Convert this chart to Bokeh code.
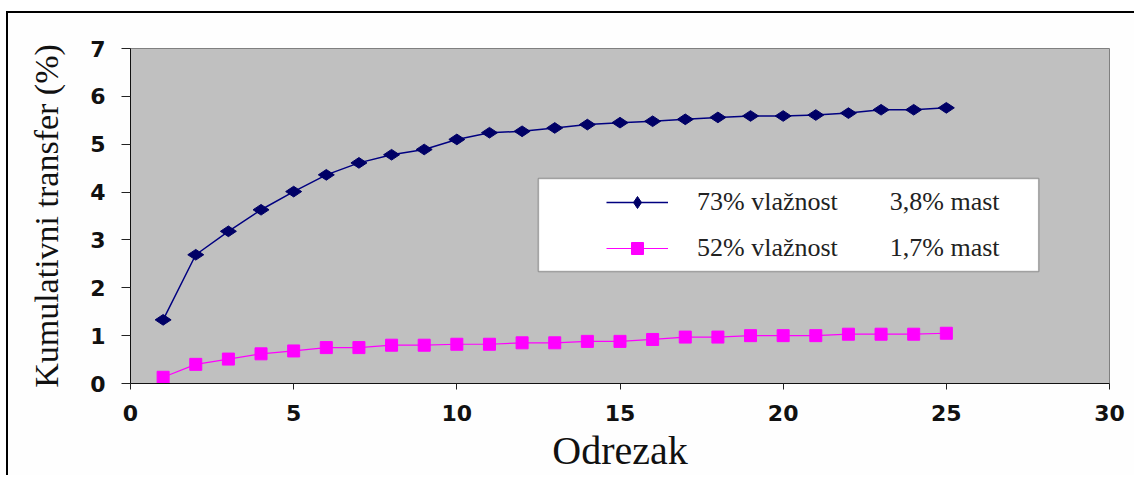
from bokeh.plotting import figure
from bokeh.models import Range1d, SingleIntervalTicker, Legend, LegendItem, BoxAnnotation
from bokeh.embed import file_html
from bokeh.resources import INLINE
import math

# ---- data ----
odrezak = list(range(1, 26))
s73 = [1.33, 2.69, 3.18, 3.63, 4.01, 4.36, 4.61, 4.78, 4.89, 5.10,
       5.24, 5.27, 5.34, 5.41, 5.45, 5.48, 5.52, 5.56, 5.59, 5.59,
       5.61, 5.65, 5.72, 5.72, 5.76]
s52 = [0.13, 0.40, 0.51, 0.62, 0.68, 0.75, 0.75, 0.80, 0.80, 0.82,
       0.82, 0.85, 0.85, 0.88, 0.88, 0.92, 0.97, 0.97, 1.00, 1.00,
       1.00, 1.03, 1.03, 1.03, 1.05]
label73 = "73% vlažnost" + "\u00a0" * 8 + "3,8% mast"
label52 = "52% vlažnost" + "\u00a0" * 8 + "1,7% mast"
x_label = "Odrezak"
y_label = "Kumulativni transfer (%)"

p = figure(width=1128, height=464, output_backend="svg", toolbar_location=None,
           x_range=Range1d(0, 30), y_range=Range1d(0, 7),
           min_border_left=122, min_border_right=27, min_border_top=35, min_border_bottom=94)
p.styles = {"margin-left": "6px", "margin-top": "11px",
            "border-left": "2px solid black", "border-top": "2px solid black"}

p.background_fill_color = "#C0C0C0"
p.border_fill_color = "#FEFEFE"
p.outline_line_color = "#808080"
p.outline_line_width = 1
p.xgrid.grid_line_color = None
p.ygrid.grid_line_color = None

for ax in (p.xaxis[0], p.yaxis[0]):
    ax.axis_line_color = "#111111"
    ax.major_tick_line_color = "#222222"
    ax.minor_tick_line_color = None
    ax.major_tick_in = 0
    ax.major_label_text_font = "DejaVu Sans"
    ax.major_label_text_font_style = "bold"
    ax.major_label_text_font_size = "22px"
    ax.major_label_text_color = "#111111"
    ax.axis_label_text_font = "Liberation Serif"
    ax.axis_label_text_font_style = "normal"
    ax.axis_label_text_color = "#111111"

p.xaxis.ticker = SingleIntervalTicker(interval=5)
p.yaxis.ticker = SingleIntervalTicker(interval=1)
p.xaxis.major_tick_out = 6
p.yaxis.major_tick_out = 9
p.xaxis.major_label_standoff = 15
p.yaxis.major_label_standoff = 16
p.xaxis.axis_label = x_label
p.yaxis.axis_label = y_label
p.xaxis.axis_label_text_font_size = "40px"
p.yaxis.axis_label_text_font_size = "34px"
p.xaxis.axis_label_standoff = 4
p.yaxis.axis_label_standoff = 22

# legend box
lbox = BoxAnnotation(left=12.50, right=27.83, top=4.285, bottom=2.34,
                     fill_color="white", fill_alpha=1, line_color="#111111",
                     line_width=1.5, level="underlay")
p.add_layout(lbox)

l1 = p.line(odrezak, s73, line_color="#000080", line_width=1.5)
m1 = p.scatter(odrezak, s73, marker="diamond", size=16, angle=math.pi / 2,
               fill_color="#000066", line_color="#000066")
l2 = p.line(odrezak, s52, line_color="#FF00FF", line_width=1.2)
m2 = p.scatter(odrezak, s52, marker="square", size=12,
               fill_color="#FF00FF", line_color="#FF00FF")

legend = Legend(items=[LegendItem(label=label73, renderers=[l1, m1]),
                       LegendItem(label=label52, renderers=[l2, m2])],
                location=(476, 120), padding=0, margin=0, spacing=16,
                glyph_width=62, glyph_height=30, label_height=30,
                label_standoff=29, label_text_font="Liberation Serif",
                label_text_font_size="26px", label_text_color="#222222",
                background_fill_alpha=0, border_line_alpha=0)
p.add_layout(legend)

open("out.html", "w").write(file_html(p, INLINE))
